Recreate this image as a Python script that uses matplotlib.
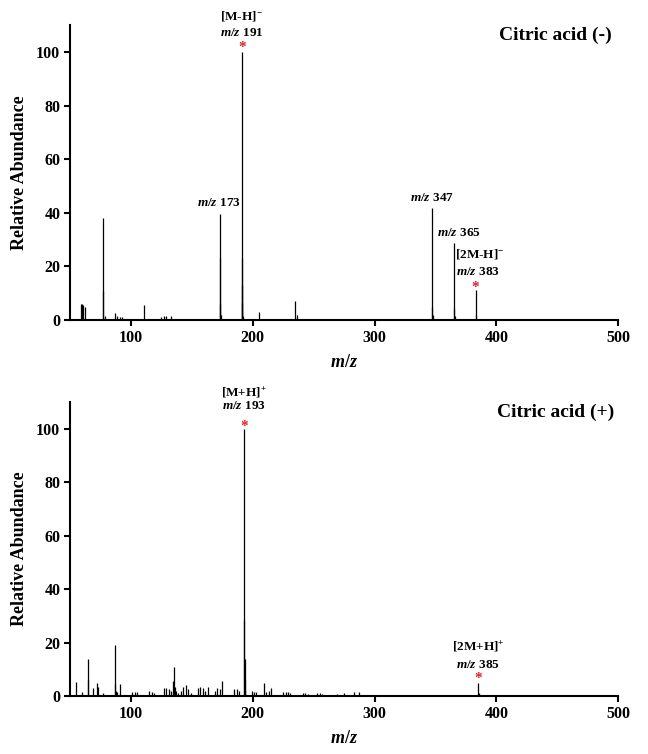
import matplotlib
matplotlib.use("Agg")
import matplotlib.pyplot as plt

plt.rcParams['font.family'] = ['Liberation Serif', 'DejaVu Serif']
plt.rcParams['font.weight'] = 'bold'
plt.rcParams['mathtext.fontset'] = 'custom'
plt.rcParams['mathtext.rm'] = 'Liberation Serif:bold'
plt.rcParams['mathtext.it'] = 'Liberation Serif:italic:bold'
plt.rcParams['mathtext.bf'] = 'Liberation Serif:bold'

# negative mode spectrum (m/z, relative abundance)
neg_mz = [59, 60, 61, 62, 76.8, 77, 79, 87, 89, 91, 93, 111, 125, 127, 129, 133,
          172.8, 173, 173.4, 174, 190.8, 191, 191.3, 191.6, 192, 205, 235, 236, 250,
          307, 329, 347, 347.5, 348, 365, 365.5, 366, 383, 383.5]
neg_int = [6, 5.8, 5.5, 5, 11, 38, 1.5, 2.5, 1.5, 1, 1, 5.5, 1, 1.5, 1.5, 1.5,
           23, 39.5, 6, 2, 23, 100, 13, 6.5, 1.5, 2.8, 7, 2, 0.5,
           0.5, 0.3, 41.7, 5, 2, 28.6, 4, 1.5, 11.2, 2]

# positive mode spectrum
pos_mz = [55, 60, 64.8, 65, 69, 72.5, 73, 77, 86.8, 87, 88, 89, 91, 101, 103, 105,
          115, 117, 119, 127, 129, 131, 133, 134.8, 135, 136, 137, 139, 141, 143,
          145, 147, 149, 155, 157, 159, 161, 163, 169, 171, 173, 175, 185, 187, 189,
          192.8, 193, 193.3, 193.6, 194, 199, 201, 203, 209, 211, 213, 215,
          225, 227, 229, 231, 241, 243, 245, 253, 255, 257, 263, 269, 275, 283, 287,
          385, 385.5]
pos_int = [5.4, 1.5, 6, 14, 3, 5, 3.5, 1, 4.5, 19, 2, 1.5, 4.5, 1.5, 1.5, 1.5,
           2, 1.5, 1, 3, 3, 2.5, 2, 5.5, 11, 3.5, 2, 1, 2, 3.5,
           4, 2.5, 1, 3, 3.5, 3, 2, 3.5, 2, 3, 2.5, 5.5, 2.5, 2.5, 2,
           28.5, 100, 14, 6, 2, 2, 1.5, 1.5, 5, 1.5, 2, 3,
           1.5, 1.5, 1.5, 1, 1, 1, 0.8, 1, 1, 0.8, 0.5, 0.8, 1, 1.5, 1.5,
           4.7, 1]

xticks = [100, 200, 300, 400, 500]
yticks = [0, 20, 40, 60, 80, 100]


def style_axis(ax, title, ttl_y):
    ax.set_xlim(50, 500)
    ax.set_ylim(0, 110)
    ax.set_xticks(xticks)
    ax.set_yticks(yticks)
    ax.spines['top'].set_visible(False)
    ax.spines['right'].set_visible(False)
    for s in ['left', 'bottom']:
        ax.spines[s].set_linewidth(1.5)
    ax.tick_params(width=1.5, length=4, labelsize=11.5, pad=3)
    for lab in ax.get_xticklabels() + ax.get_yticklabels():
        lab.set_fontweight('bold')
    ax.set_ylabel('Relative Abundance', fontsize=13, fontweight='bold', labelpad=6)
    ax.set_xlabel('$m/z$', fontsize=13, labelpad=6)
    ax.text(0.885, ttl_y, title, transform=ax.transAxes, ha='center', va='top',
            fontsize=14, fontweight='bold')


fig = plt.figure(figsize=(6.48, 7.54), dpi=100)
ax1 = fig.add_axes([0.108, 0.5756, 0.846, 0.391])
ax2 = fig.add_axes([0.108, 0.0769, 0.846, 0.390])

ax1.vlines(neg_mz, 0, neg_int, color='black', lw=0.9)
ax2.vlines(pos_mz, 0, pos_int, color='black', lw=0.9)

style_axis(ax1, 'Citric acid (-)', 0.995)
style_axis(ax2, 'Citric acid (+)', 0.995)

fs = 9.5
# top panel labels
ax1.text(191, 113.5, '[M-H]$^{-}$', ha='center', va='center', fontsize=fs, clip_on=False)
ax1.text(191, 107, '$m/z$ 191', ha='center', va='center', fontsize=fs, clip_on=False)
ax1.text(191, 101.5, '*', color='#e02020', ha='center', va='center', fontsize=11)
ax1.text(172.5, 43.5, '$m/z$ 173', ha='center', va='center', fontsize=fs)
ax1.text(347, 45.5, '$m/z$ 347', ha='center', va='center', fontsize=fs)
ax1.text(351, 32.4, '$m/z$ 365', ha='left', va='center', fontsize=fs)
ax1.text(366, 24.6, '[2M-H]$^{-}$', ha='left', va='center', fontsize=fs)
ax1.text(367, 18, '$m/z$ 383', ha='left', va='center', fontsize=fs)
ax1.text(383, 12.3, '*', color='#e02020', ha='center', va='center', fontsize=11)

# bottom panel labels
ax2.text(193, 113.5, '[M+H]$^{+}$', ha='center', va='center', fontsize=fs, clip_on=False)
ax2.text(193, 108.5, '$m/z$ 193', ha='center', va='center', fontsize=fs, clip_on=False)
ax2.text(193, 100.8, '*', color='#e02020', ha='center', va='center', fontsize=11)
ax2.text(385, 18.5, '[2M+H]$^{+}$', ha='center', va='center', fontsize=fs)
ax2.text(385, 11.6, '$m/z$ 385', ha='center', va='center', fontsize=fs)
ax2.text(385, 6.4, '*', color='#e02020', ha='center', va='center', fontsize=11)

fig.savefig('out.png', dpi=100)
